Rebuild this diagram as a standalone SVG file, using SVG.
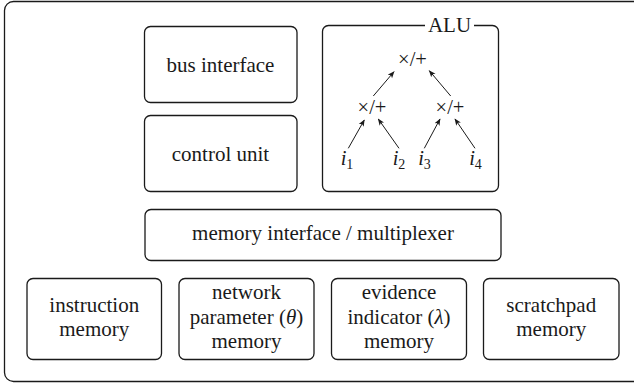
<svg xmlns="http://www.w3.org/2000/svg" width="634" height="383" viewBox="0 0 634 383">
<style>
.box{fill:none;stroke:#1a1a1a;stroke-width:1.3}
text{font-family:'Liberation Serif','DejaVu Serif',serif;fill:#1a1a1a;text-anchor:middle}
.t{font-size:21px}
.m{font-size:20.5px}
.sub{font-size:14px;font-style:normal}
.e{stroke:#1a1a1a;stroke-width:1;fill:none;marker-end:url(#ah)}
</style>
<defs>
<marker id="ah" viewBox="0 0 10 10" refX="9" refY="5" markerWidth="7" markerHeight="7" markerUnits="userSpaceOnUse" orient="auto">
<path d="M0,1 L10,5 L0,9 L2.5,5 Z" fill="#1a1a1a"/>
</marker>
</defs>
<rect width="634" height="383" fill="#fff"/>
<g id="outer"><rect class="box" x="4.5" y="1.5" width="640" height="380" rx="9"/></g>
<g id="bus"><rect class="box" x="144.5" y="26.5" width="152.5" height="76" rx="6"/><text class="t" x="220.5" y="72">bus interface</text></g>
<g id="control"><rect class="box" x="144.5" y="115.5" width="152.5" height="76" rx="6"/><text class="t" x="220.5" y="160.5">control unit</text></g>
<g id="alu"><path class="box" d="M425,25.5 H328.5 a6,6 0 0 0 -6,6 V185.5 a6,6 0 0 0 6,6 H492.5 a6,6 0 0 0 6,-6 V31.5 a6,6 0 0 0 -6,-6 H474"/><text class="t" x="449.5" y="32">ALU</text></g>
<g id="n_top"><text class="m" x="412.5" y="65.5">×/+</text></g>
<g id="n_midL"><text class="m" x="372" y="113.5">×/+</text></g>
<g id="n_midR"><text class="m" x="450" y="113.5">×/+</text></g>
<g id="i1"><text class="m" x="347" y="164.5"><tspan font-style="italic">i</tspan><tspan class="sub" dy="4">1</tspan></text></g>
<g id="i2"><text class="m" x="399" y="164.5"><tspan font-style="italic">i</tspan><tspan class="sub" dy="4">2</tspan></text></g>
<g id="i3"><text class="m" x="424.5" y="164.5"><tspan font-style="italic">i</tspan><tspan class="sub" dy="4">3</tspan></text></g>
<g id="i4"><text class="m" x="475.5" y="164.5"><tspan font-style="italic">i</tspan><tspan class="sub" dy="4">4</tspan></text></g>
<g id="connectors">
<line class="e" x1="348.3" y1="148.3" x2="364.3" y2="120"/>
<line class="e" x1="399" y1="148.3" x2="378.3" y2="119"/>
<line class="e" x1="424.3" y1="148.3" x2="440" y2="119"/>
<line class="e" x1="475" y1="148.3" x2="455" y2="119"/>
<line class="e" x1="373.3" y1="96" x2="394" y2="71.7"/>
<line class="e" x1="450.7" y1="96" x2="429.3" y2="70.7"/>
</g>
<g id="memif"><rect class="box" x="145" y="209.5" width="356" height="51" rx="6"/><text class="t" x="323" y="240">memory interface / multiplexer</text></g>
<g id="instr"><rect class="box" x="27" y="278.5" width="134.5" height="81" rx="6"/><text class="t" x="94.25" y="311.5">instruction</text><text class="t" x="94.25" y="336">memory</text></g>
<g id="param"><rect class="box" x="179" y="278.5" width="135" height="81" rx="6"/><text class="t" x="246.5" y="299">network</text><text class="t" x="246.5" y="323.5">parameter (<tspan font-style="italic">θ</tspan>)</text><text class="t" x="246.5" y="348">memory</text></g>
<g id="evid"><rect class="box" x="331.5" y="278.5" width="135" height="81" rx="6"/><text class="t" x="399" y="299">evidence</text><text class="t" x="399" y="323.5">indicator (<tspan font-style="italic">λ</tspan>)</text><text class="t" x="399" y="348">memory</text></g>
<g id="scratch"><rect class="box" x="483.5" y="278.5" width="135.5" height="81" rx="6"/><text class="t" x="551.25" y="311.5">scratchpad</text><text class="t" x="551.25" y="336">memory</text></g>
</svg>
